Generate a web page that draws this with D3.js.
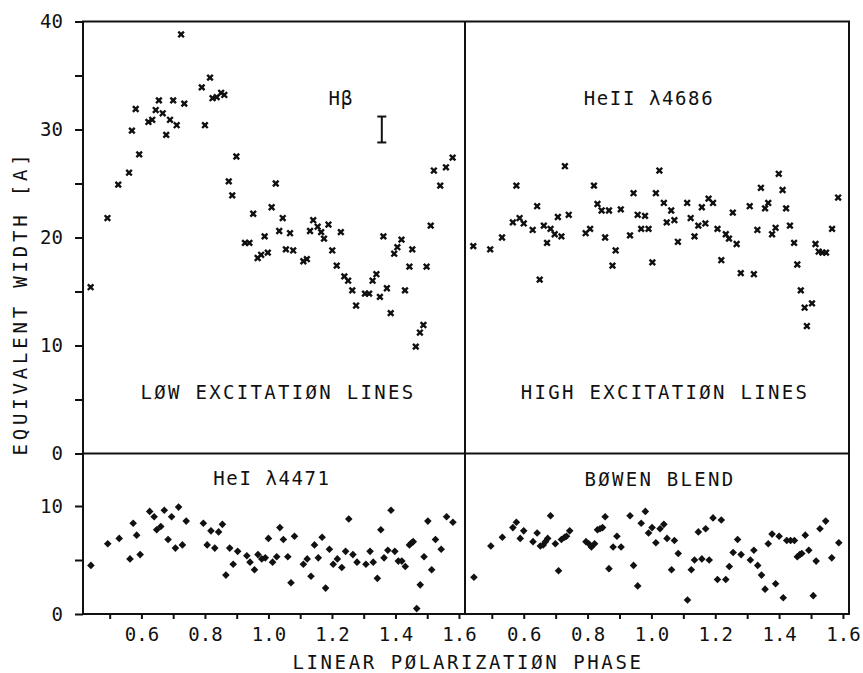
<!DOCTYPE html>
<html><head><meta charset="utf-8">
<script src="https://cdn.jsdelivr.net/npm/d3@7/dist/d3.min.js"></script>
<style>
html,body{margin:0;padding:0;background:#fff;}
svg{display:block;}
text{font-family:"DejaVu Sans Mono",monospace;fill:#111;}
</style></head>
<body>
<svg id="chart" width="863" height="673"></svg>
<script>
// ---- data ----
const phaseTicks = [0.5,0.6,0.7,0.8,0.9,1.0,1.1,1.2,1.3,1.4,1.5,1.6];
const phaseLabels = [0.6,0.8,1.0,1.2,1.4,1.6];
const upperTicks = [0,5,10,15,20,25,30,35,40];
const upperLabels = [0,10,20,30,40];
const lowerTicks = [0,5,10];
const lowerLabels = [0,10];

const hBeta = [[0.440,15.4],[0.493,21.8],[0.527,24.9],[0.561,26.0],[0.570,29.9],[0.582,31.9],[0.593,27.7],[0.622,30.7],[0.634,30.9],[0.645,31.8],[0.655,32.7],[0.667,31.5],[0.678,29.5],[0.690,30.9],[0.700,32.7],[0.711,30.4],[0.725,38.8],[0.735,32.4],[0.790,33.9],[0.800,30.4],[0.816,34.8],[0.824,32.9],[0.837,33.0],[0.851,33.4],[0.861,33.2],[0.875,25.2],[0.886,23.9],[0.899,27.5],[0.926,19.5],[0.940,19.5],[0.952,22.2],[0.966,18.1],[0.977,18.4],[0.988,20.1],[0.998,18.6],[1.010,22.8],[1.023,25.0],[1.034,20.6],[1.045,21.8],[1.055,18.9],[1.068,20.4],[1.078,18.8],[1.110,17.8],[1.121,18.0],[1.131,20.6],[1.141,21.6],[1.155,21.0],[1.166,20.5],[1.175,19.9],[1.189,21.2],[1.201,18.8],[1.215,17.4],[1.228,20.5],[1.239,16.4],[1.251,16.0],[1.264,15.1],[1.276,13.7],[1.304,14.8],[1.317,14.8],[1.328,16.0],[1.340,16.6],[1.351,14.5],[1.362,20.1],[1.373,15.3],[1.385,13.0],[1.396,18.5],[1.406,19.1],[1.419,19.8],[1.430,15.1],[1.444,17.3],[1.453,18.9],[1.464,9.9],[1.477,11.2],[1.488,11.9],[1.498,17.3],[1.511,21.1],[1.521,26.2],[1.541,24.8],[1.559,26.5],[1.580,27.4]];
const hBetaError = [1.357, 28.8, 31.2];

const heII = [[0.442,19.2],[0.495,18.9],[0.532,20.0],[0.566,21.4],[0.577,24.8],[0.587,21.8],[0.600,21.3],[0.628,20.7],[0.642,22.9],[0.650,16.1],[0.663,21.1],[0.673,19.5],[0.684,20.8],[0.697,20.3],[0.707,21.9],[0.718,20.1],[0.729,26.6],[0.741,22.1],[0.794,20.4],[0.808,20.8],[0.820,24.8],[0.831,23.1],[0.844,22.5],[0.855,20.0],[0.867,22.5],[0.878,17.4],[0.888,18.8],[0.904,22.6],[0.933,20.2],[0.944,24.1],[0.957,22.1],[0.968,20.8],[0.980,22.0],[0.991,20.8],[1.003,17.7],[1.014,24.1],[1.025,26.2],[1.039,23.2],[1.048,21.4],[1.062,22.5],[1.072,21.6],[1.083,19.6],[1.112,23.2],[1.123,21.8],[1.135,20.1],[1.147,21.1],[1.158,22.8],[1.169,21.3],[1.179,23.6],[1.193,23.2],[1.207,20.8],[1.219,17.9],[1.233,20.3],[1.243,19.9],[1.255,22.3],[1.267,19.4],[1.280,16.7],[1.308,22.9],[1.321,16.6],[1.332,20.7],[1.343,24.6],[1.356,22.7],[1.366,23.2],[1.378,20.3],[1.389,20.9],[1.399,25.9],[1.411,24.4],[1.422,22.7],[1.434,21.1],[1.447,19.5],[1.457,17.5],[1.468,15.1],[1.480,13.5],[1.487,11.8],[1.503,13.9],[1.514,19.4],[1.524,18.7],[1.536,18.6],[1.547,18.6],[1.566,20.8],[1.585,23.7]];

const heI = [[0.441,4.5],[0.494,6.5],[0.530,7.0],[0.564,5.1],[0.574,8.4],[0.585,7.3],[0.596,5.5],[0.626,9.5],[0.640,9.0],[0.648,7.8],[0.661,8.1],[0.672,9.6],[0.684,6.9],[0.695,9.0],[0.707,6.1],[0.717,9.9],[0.729,6.4],[0.741,8.6],[0.795,8.4],[0.807,6.4],[0.819,7.7],[0.831,6.1],[0.843,7.6],[0.855,8.3],[0.866,3.6],[0.878,6.1],[0.889,4.6],[0.903,5.8],[0.932,5.4],[0.942,4.8],[0.956,4.1],[0.967,5.5],[0.979,5.1],[0.990,5.2],[1.000,7.0],[1.013,4.8],[1.026,5.3],[1.036,8.0],[1.047,6.9],[1.061,5.3],[1.071,2.9],[1.082,7.2],[1.110,4.6],[1.122,5.1],[1.134,3.5],[1.145,6.4],[1.157,5.2],[1.169,7.1],[1.180,2.4],[1.192,6.0],[1.204,4.6],[1.217,5.1],[1.231,4.3],[1.243,5.8],[1.253,8.8],[1.266,5.5],[1.279,4.8],[1.307,4.6],[1.320,5.8],[1.330,4.8],[1.343,3.3],[1.354,7.8],[1.364,5.2],[1.376,5.9],[1.386,9.6],[1.398,5.8],[1.409,4.9],[1.420,4.9],[1.431,4.4],[1.444,6.4],[1.451,6.6],[1.456,6.7],[1.467,0.5],[1.478,2.7],[1.490,5.3],[1.502,8.6],[1.514,4.1],[1.526,6.9],[1.544,6.0],[1.561,9.0],[1.581,8.5]];

const bowen = [[0.444,3.4],[0.497,6.3],[0.533,7.1],[0.566,8.0],[0.577,8.5],[0.589,7.0],[0.600,7.7],[0.629,6.7],[0.642,7.5],[0.652,6.3],[0.661,6.4],[0.668,6.7],[0.675,7.0],[0.684,9.1],[0.699,6.5],[0.709,4.0],[0.718,6.9],[0.728,7.1],[0.734,7.2],[0.744,7.7],[0.795,6.7],[0.804,6.5],[0.812,6.2],[0.822,6.5],[0.831,7.8],[0.839,7.9],[0.847,8.0],[0.855,9.0],[0.867,4.2],[0.880,6.2],[0.892,7.2],[0.905,6.2],[0.933,9.1],[0.944,4.5],[0.957,2.6],[0.968,8.4],[0.981,9.5],[0.991,7.5],[1.002,8.0],[1.014,6.6],[1.027,7.9],[1.039,8.3],[1.049,7.0],[1.063,4.1],[1.072,6.8],[1.084,5.6],[1.113,1.3],[1.125,4.1],[1.135,5.0],[1.147,7.6],[1.158,5.1],[1.170,7.9],[1.181,5.0],[1.193,8.9],[1.207,3.2],[1.219,8.7],[1.233,3.2],[1.244,4.4],[1.256,5.7],[1.270,6.9],[1.281,5.5],[1.310,5.0],[1.321,5.9],[1.333,4.5],[1.345,3.6],[1.356,2.3],[1.366,6.5],[1.378,7.4],[1.389,2.8],[1.400,7.2],[1.413,1.5],[1.424,6.8],[1.436,6.8],[1.448,6.8],[1.457,5.3],[1.465,5.5],[1.471,5.6],[1.482,7.3],[1.493,5.9],[1.507,1.7],[1.516,4.9],[1.528,7.9],[1.546,8.6],[1.565,5.2],[1.587,6.6]];

// ---- layout ----
const svg = d3.select("#chart");
const X0 = 83, XM = 465, X1 = 849;
const YT = 21.5, YM = 453.5, YB = 614;
const phaseDomain = [0.416, 1.619];
const xL = d3.scaleLinear().domain(phaseDomain).range([X0, XM]);
const xR = d3.scaleLinear().domain(phaseDomain).range([XM, X1]);
const yU = d3.scaleLinear().domain([0, 40]).range([YM, YT]);
const yD = d3.scaleLinear().domain([0, 15]).range([YB, 452]);
const ink = "#111";

// frame
const frame = svg.append("g").attr("stroke", ink).attr("stroke-width", 2).attr("fill", "none");
frame.append("rect").attr("x", X0).attr("y", YT).attr("width", X1 - X0).attr("height", YB - YT);
frame.append("line").attr("x1", XM).attr("x2", XM).attr("y1", YT).attr("y2", YB);
frame.append("line").attr("x1", X0).attr("x2", X1).attr("y1", YM).attr("y2", YM);

// axes
function styleAxis(g) {
  g.select(".domain").remove();
  g.selectAll(".tick line").attr("stroke", ink).attr("stroke-width", 2);
  g.selectAll(".tick text").style("font-family", '"DejaVu Sans Mono",monospace')
    .style("font-size", "19px").attr("fill", ink);
}
const fmtX = d => phaseLabels.some(v => Math.abs(v - d) < 1e-6) ? d3.format(".1f")(d) : "";
[xL, xR].forEach(sc => {
  svg.append("g").attr("transform", `translate(0,${YB})`)
    .call(d3.axisBottom(sc).tickValues(phaseTicks).tickSize(5).tickPadding(9).tickFormat(fmtX))
    .call(styleAxis);
});
svg.append("g").attr("transform", `translate(${X0},0)`)
  .call(d3.axisLeft(yU).tickValues(upperTicks).tickSize(8).tickPadding(12)
    .tickFormat(d => upperLabels.includes(d) ? d : ""))
  .call(styleAxis);
svg.append("g").attr("transform", `translate(${X0},0)`)
  .call(d3.axisLeft(yD).tickValues(lowerTicks).tickSize(8).tickPadding(12)
    .tickFormat(d => lowerLabels.includes(d) ? d : ""))
  .call(styleAxis);

// markers
const xMark = "M-2.8,-2.8L2.8,2.8M-2.8,2.8L2.8,-2.8";
function crosses(data, xs) {
  const g = svg.append("g");
  const m = g.selectAll("g").data(data).join("g")
    .attr("transform", d => `translate(${xs(d[0])},${yU(d[1])})`);
  m.append("path").attr("d", xMark).attr("stroke", ink).attr("stroke-width", 2.4).attr("fill", "none");
  m.append("rect").attr("x", -1.6).attr("y", -1.6).attr("width", 3.2).attr("height", 3.2).attr("fill", ink);
}
function diamonds(data, xs) {
  svg.append("g").selectAll("path").data(data).join("path")
    .attr("transform", d => `translate(${xs(d[0])},${yD(d[1])})`)
    .attr("d", "M0,-3.8L3.8,0L0,3.8L-3.8,0Z").attr("fill", ink);
}
crosses(hBeta, xL);
crosses(heII, xR);
diamonds(heI, xL);
diamonds(bowen, xR);

// error bar
const eb = svg.append("g").attr("stroke", ink).attr("stroke-width", 2);
const ex = xL(hBetaError[0]);
eb.append("line").attr("x1", ex).attr("x2", ex).attr("y1", yU(hBetaError[1])).attr("y2", yU(hBetaError[2]));
eb.append("line").attr("x1", ex - 4.5).attr("x2", ex + 4.5).attr("y1", yU(hBetaError[1])).attr("y2", yU(hBetaError[1]));
eb.append("line").attr("x1", ex - 4.5).attr("x2", ex + 4.5).attr("y1", yU(hBetaError[2])).attr("y2", yU(hBetaError[2]));

// labels
function label(txt, x, y, size, ls) {
  svg.append("text").attr("x", x).attr("y", y).attr("text-anchor", "middle")
    .attr("dominant-baseline", "central")
    .style("font-size", size + "px").style("letter-spacing", ls + "px").text(txt);
}
label("Hβ", 341, 98, 19, 1);
label("HeII λ4686", 649, 98, 19, 1.6);
label("LØW EXCITATIØN LINES", 278, 392, 19, 2.3);
label("HIGH EXCITATIØN LINES", 665, 392, 19, 2.3);
label("HeI λ4471", 272, 478, 19, 1.6);
label("BØWEN BLEND", 660, 479, 19, 2.3);
label("LINEAR PØLARIZATIØN PHASE", 468, 662, 19, 2.6);
svg.append("text").attr("transform", "translate(20,303) rotate(-90)")
  .attr("text-anchor", "middle").attr("dominant-baseline", "central")
  .style("font-size", "19px").style("letter-spacing", "3.8px").text("EQUIVALENT WIDTH [A]");
</script>
</body></html>
